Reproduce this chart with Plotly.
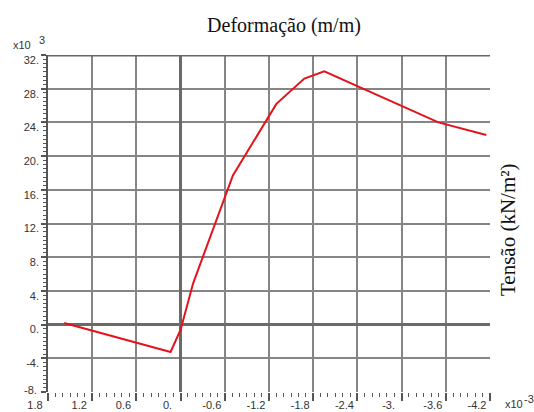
import plotly.graph_objects as go

# ---- data (strain in 1e-3 m/m, stress in 1e3 kN/m2) ----
strain = [1.58, 0.136, 0.0, -0.17, -0.71, -1.30, -1.68, -1.95, -3.50, -4.15]
stress = [0.2, -3.25, -0.6, 4.9, 17.7, 26.2, 29.2, 30.05, 24.0, 22.5]

x_tickvals = [1.8, 1.2, 0.6, 0.0, -0.6, -1.2, -1.8, -2.4, -3.0, -3.6, -4.2]
x_ticktext = ["1.8", "1.2", "0.6", "0.", "-0.6", "-1.2", "-1.8", "-2.4", "-3.", "-3.6", "-4.2"]
y_tickvals = [32, 28, 24, 20, 16, 12, 8, 4, 0, -4, -8]
y_ticktext = ["32.", "28.", "24.", "20.", "16.", "12.", "8.", "4.", "0.", "-4.", "-8."]

W, H = 534, 412
L, R, T, B = 48, 44, 55, 20
pw, ph = W - L - R, H - T - B

def px(xp):
    return (xp - L) / pw

def py(yp):
    return (H - B - yp) / ph

grid = "#858585"
axc = "#555555"
tf = dict(family="Liberation Sans, Arial", size=11, color="#333333")
serif_t = dict(family="Liberation Serif, Times New Roman", size=20, color="#111111")
serif_y = dict(family="Liberation Serif, Times New Roman", size=21, color="#111111")

fig = go.Figure()
fig.add_trace(go.Scatter(x=strain, y=stress, mode="lines",
                         line=dict(color="#e3131b", width=2), showlegend=False))

# bottom-most y label is drawn separately (it sits at the corner, unshifted)
y_text_axis = y_ticktext[:-1] + [""]

fig.update_layout(
    width=W, height=H,
    margin=dict(l=L, r=R, t=T, b=B, autoexpand=False),
    paper_bgcolor="white", plot_bgcolor="white",
    title=dict(text="Deformação (m/m)", x=284 / W, y=1 - 25 / H,
               xanchor="center", yanchor="middle", font=serif_t),
    xaxis=dict(range=[1.8, -4.2], tickmode="array", tickvals=x_tickvals,
               ticktext=x_ticktext, showgrid=True, gridcolor=grid, gridwidth=1.5,
               zeroline=True, zerolinecolor="#6a6a6a", zerolinewidth=3,
               showline=False, ticks="outside", ticklen=8, tickwidth=1.5,
               tickcolor=axc, tickfont=tf, ticklabelshift=13,
               ticklabelstandoff=-5, automargin=False,
               minor=dict(tickmode="linear", tick0=0, dtick=0.1, ticks="outside",
                          ticklen=4, tickwidth=1.2, tickcolor=axc, showgrid=False)),
    yaxis=dict(range=[-8, 32], tickmode="array", tickvals=y_tickvals,
               ticktext=y_text_axis, showgrid=True, gridcolor=grid, gridwidth=1.5,
               zeroline=True, zerolinecolor="#6a6a6a", zerolinewidth=3,
               showline=True, linecolor=axc, linewidth=1.5,
               ticks="outside", ticklen=5, tickwidth=1.5, tickcolor=axc,
               tickfont=tf, ticklabelshift=5, automargin=False,
               minor=dict(tickmode="linear", tick0=0, dtick=0.5, ticks="outside",
                          ticklen=3, tickwidth=1.2, tickcolor=axc, showgrid=False)),
)

fig.add_shape(type="line", xref="paper", yref="y", x0=0, x1=1, y0=32, y1=32,
              line=dict(color="#666666", width=3))

ann = [
    dict(text="Tensão (kN/m²)", x=px(508), y=py(230), textangle=-90, font=serif_y),
    dict(text="x10", x=px(22), y=py(45), font=tf),
    dict(text="3", x=px(42), y=py(40), font=tf),
    dict(text="x10", x=px(514), y=py(404), font=tf),
    dict(text="-3", x=px(529), y=py(399), font=tf),
]
for a in ann:
    fig.add_annotation(xref="paper", yref="paper", showarrow=False,
                       xanchor="center", yanchor="middle", **a)
fig.add_annotation(text=y_ticktext[-1], xref="paper", yref="paper",
                   x=px(39), y=py(390), xanchor="right", yanchor="middle",
                   showarrow=False, font=tf)

fig.write_html("out.html", config={"displayModeBar": False},
               post_script="document.body.style.margin='0';document.body.style.overflow='hidden';")
